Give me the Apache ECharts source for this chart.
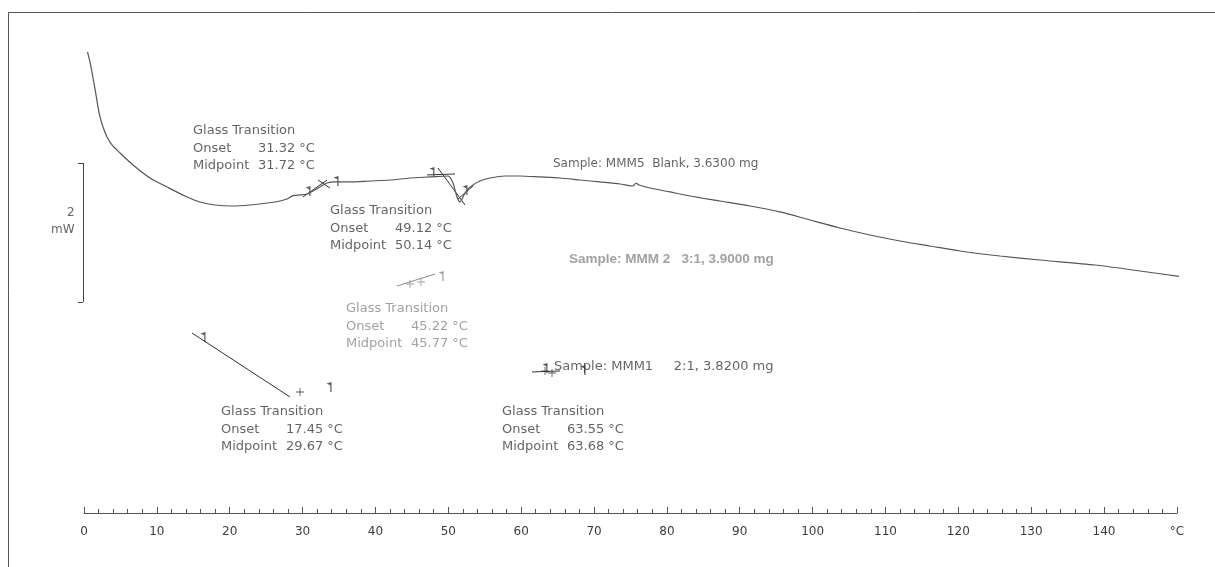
<!DOCTYPE html>
<html><head><meta charset="utf-8">
<script src="https://cdn.jsdelivr.net/npm/echarts@6/dist/echarts.min.js"></script>
<style>html,body{margin:0;padding:0;background:#fff}#c{width:1215px;height:567px}</style>
</head><body><div id="c"></div>
<script>
// Temperature axis ticks (°C)
const tempTicks = [0,10,20,30,40,50,60,70,80,90,100,110,120,130,140,150];
// Heat-flow curve of sample MMM5 (Blank): [temperature °C, heat flow mW (relative)]
const curveMMM5 = [
 [0.48,6.639],[0.82,6.495],[1.24,6.264],[1.65,6.020],[1.92,5.847],[2.20,5.703],[2.61,5.559],
 [3.16,5.415],[3.84,5.300],[4.94,5.184],[6.73,5.012],[9.06,4.824],[11.39,4.695],[13.86,4.565],
 [15.92,4.479],[17.98,4.435],[20.45,4.421],[22.78,4.435],[25.12,4.464],[26.90,4.493],[27.86,4.522],
 [28.69,4.570],[29.65,4.580],[30.61,4.594],[31.43,4.637],[32.39,4.695],[33.35,4.752],[34.45,4.767],
 [36.51,4.767],[39.25,4.781],[42.00,4.795],[44.74,4.824],[47.49,4.839],[49.96,4.853],[50.64,4.752],
 [51.19,4.551],[51.61,4.479],[52.02,4.551],[52.57,4.651],[53.39,4.724],[54.35,4.781],[55.72,4.824],
 [57.78,4.853],[59.84,4.853],[62.59,4.839],[65.33,4.824],[68.08,4.795],[70.82,4.767],[73.57,4.738],
 [75.35,4.709],[75.76,4.752],[76.17,4.724],[77.68,4.680],[80.43,4.623],[83.17,4.565],[87.29,4.493],
 [91.41,4.421],[95.53,4.335],[99.64,4.219],[103.76,4.104],[107.88,4.003],[112.00,3.917],[116.11,3.845],
 [120.23,3.773],[125.72,3.701],[131.21,3.643],[138.76,3.571],[144.94,3.485],[150.97,3.399]
];
// Evaluation tangents (black = MMM5 / MMM1, grey = MMM2)
const tangentsBlack = [
 [[30.06,4.551],[33.35,4.795]], [[32.12,4.795],[33.76,4.680]],
 [[47.08,4.868],[50.92,4.882]], [[48.59,4.968],[52.29,4.435]], [[51.33,4.522],[53.39,4.709]],
 [[14.82,2.592],[28.27,1.671]], [[61.49,2.031],[65.33,2.045]]
];
const tangentsGrey = [ [[42.96,3.269],[48.17,3.442]] ];
const flagsBlack = [[30.74,4.637],[34.59,4.781],[47.76,4.911],[52.29,4.651],[16.33,2.535],[33.63,1.815],[63.27,2.088],[68.49,2.059]];
const flagsGrey = [[49.0,3.413]];
const plusBlack = [[29.65,1.743],[63.27,2.045],[64.23,2.016]];
const plusGrey = [[44.74,3.298],[46.25,3.327]];
// Scale bar: 2 mW
const scaleBar = {from: 3.04, to: 5.04, labelY: 4.2, label: ['2','mW']};
// Glass transition results: [x, y, onset °C, midpoint °C, grey?]
const glassTransitions = [
 [14.96,5.631,'31.32','31.72',false],
 [33.76,4.479,'49.12','50.14',false],
 [35.96,3.067,'45.22','45.77',true],
 [18.80,1.584,'17.45','29.67',false],
 [57.37,1.584,'63.55','63.68',false]
];
// Sample labels: [x, y, text, grey?, font size]
const sampleLabels = [
 [64.37,5.03,'Sample: MMM5  Blank, 3.6300 mg',false,12],
 [66.57,3.658,'Sample: MMM 2   3:1, 3.9000 mg',true,13.5],
 [64.5,2.103,'Sample: MMM1     2:1, 3.8200 mg',false,13]
];

const BLACK = '#3c3c3c', GREY = '#8a8a8a';
const FONT = 'DejaVu Sans';
const flagPath = 'path://M4,0 L0,1.6 L3,3.2 L3,10 L4,10 Z';
const plusPath = 'path://M4,0 L5,0 L5,4 L9,4 L9,5 L5,5 L5,9 L4,9 L4,5 L0,5 L0,4 L4,4 Z';

const chart = echarts.init(document.getElementById('c'));
const gtBlocks = glassTransitions.map(g => {
  const col = g[4] ? GREY : BLACK;
  const st = {fontFamily: FONT, fontSize: 13, lineHeight: 17.5, color: col};
  return {
    value: [g[0], g[1]],
    label: {
      color: col,
      formatter: '{t|Glass Transition}\n{a|Onset}{b|' + g[2] + ' °C}\n{a|Midpoint}{b|' + g[3] + ' °C}',
      rich: {t: st, a: Object.assign({width: 65}, st), b: st}
    }
  };
});
const sLabels = sampleLabels.map(s => ({
  value: [s[0], s[1]],
  label: {
    formatter: s[2],
    color: s[3] ? GREY : BLACK,
    fontFamily: s[3] ? 'Liberation Sans' : FONT,
    fontWeight: s[3] ? 'bold' : 'normal',
    fontSize: s[4]
  }
}));

chart.setOption({
  animation: false,
  backgroundColor: '#fff',
  graphic: [{type: 'polyline', shape: {points: [[8.5, 600], [8.5, 12.5], [1215, 12.5]]},
    style: {fill: 'none', stroke: '#555', lineWidth: 1}, silent: true}],
  grid: {left: 84, right: 38.1, top: 13, bottom: 54, containLabel: false},
  xAxis: {
    type: 'value', min: tempTicks[0], max: tempTicks[tempTicks.length - 1], interval: 10,
    axisLine: {show: true, lineStyle: {color: '#555', width: 1}},
    axisTick: {show: true, inside: true, length: 6, lineStyle: {color: '#555'}},
    minorTick: {show: true, splitNumber: 5, length: 4, lineStyle: {color: '#555'}},
    splitLine: {show: false},
    axisLabel: {color: BLACK, fontFamily: FONT, fontSize: 12, margin: 13,
      formatter: v => (v === 150 ? '°C' : String(v))}
  },
  yAxis: {type: 'value', min: 0, max: 7.2, show: false},
  series: [
    {type: 'line', data: curveMMM5, showSymbol: false, smooth: 0.25, clip: false,
      lineStyle: {color: '#555', width: 1.2}, z: 3},
    {type: 'lines', coordinateSystem: 'cartesian2d', clip: false,
      data: tangentsBlack.map(c => ({coords: c})), lineStyle: {color: '#333', width: 1, opacity: 1}},
    {type: 'lines', coordinateSystem: 'cartesian2d', clip: false,
      data: tangentsGrey.map(c => ({coords: c})), lineStyle: {color: GREY, width: 1, opacity: 1}},
    {type: 'lines', coordinateSystem: 'cartesian2d', clip: false,
      data: [
        {coords: [[-0.14, scaleBar.to], [-0.14, scaleBar.from]]},
        {coords: [[-0.82, scaleBar.to], [-0.14, scaleBar.to]]},
        {coords: [[-0.82, scaleBar.from], [-0.14, scaleBar.from]]}
      ], lineStyle: {color: '#444', width: 1, opacity: 1}},
    {type: 'scatter', data: flagsBlack, symbol: flagPath, symbolSize: [5, 10], itemStyle: {color: '#333'}, clip: false},
    {type: 'scatter', data: flagsGrey, symbol: flagPath, symbolSize: [5, 10], itemStyle: {color: GREY}, clip: false},
    {type: 'scatter', data: plusBlack, symbol: plusPath, symbolSize: 8, itemStyle: {color: '#333'}, clip: false},
    {type: 'scatter', data: plusGrey, symbol: plusPath, symbolSize: 8, itemStyle: {color: GREY}, clip: false},
    {type: 'scatter', data: gtBlocks, symbolSize: 0, clip: false,
      label: {show: true, position: [0, 0], align: 'left', verticalAlign: 'top'}},
    {type: 'scatter', data: sLabels, symbolSize: 0, clip: false,
      label: {show: true, position: [0, 0], align: 'left', verticalAlign: 'middle'}},
    {type: 'scatter', data: [[-1.3, scaleBar.labelY]], symbolSize: 0, clip: false,
      label: {show: true, position: [0, 0], align: 'right', verticalAlign: 'middle',
        formatter: scaleBar.label.join('\n'), lineHeight: 17, color: BLACK, fontFamily: FONT, fontSize: 12}}
  ]
});
</script></body></html>
